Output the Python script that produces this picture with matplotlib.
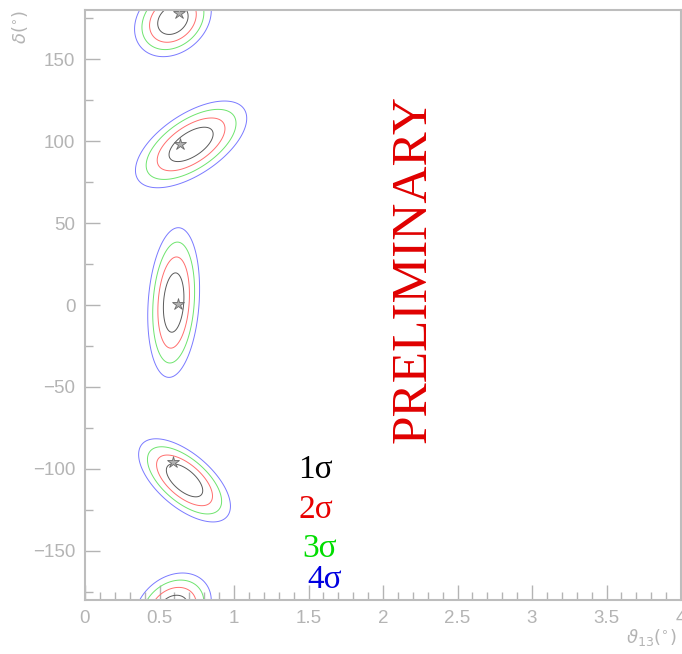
import matplotlib
matplotlib.use("Agg")
import matplotlib.pyplot as plt
import numpy as np
from matplotlib.ticker import MultipleLocator

# best-fit points (theta13 [deg], delta [deg])
best_theta = [0.633, 0.638, 0.626, 0.593]
best_delta = [178.2, 98.0, 0.4, -95.5]

# allowed islands: centre, widths and correlation of the local minimum
isl_theta = [0.712, 0.595, 0.668, 0.590]
isl_delta = [98.0, 1.5, -107.0, 174.0]
isl_sx = [0.103, 0.048, 0.085, 0.071]
isl_sy = [7.3, 12.6, 7.0, 6.2]
isl_rho = [0.60, 0.18, -0.62, 0.25]

# delta chi^2 for 1..4 sigma with 2 d.o.f.
sigma_labels = ["1σ", "2σ", "3σ", "4σ"]
sigma_levels = [2.30, 6.18, 11.83, 19.33]
sigma_colors = ["#5a5a5a", "#ff6e6e", "#6ee46e", "#7a7aff"]
label_colors = ["#000000", "#e80000", "#00dd00", "#0000e0"]
label_pos = [(1.43, -100.5), (1.43, -124.7), (1.46, -148.8), (1.49, -167.7)]

GREY = "#b4b4b4"

theta = np.linspace(0.0, 4.0, 801)
delta = np.linspace(-180.0, 180.0, 1441)
T, D = np.meshgrid(theta, delta)

chi2 = np.full(T.shape, np.inf)
for x0, y0, sx, sy, rho in zip(isl_theta, isl_delta, isl_sx, isl_sy, isl_rho):
    dx = (T - x0) / sx
    dy = ((D - y0 + 180.0) % 360.0 - 180.0) / sy
    q = (dx ** 2 - 2 * rho * dx * dy + dy ** 2) / (1 - rho ** 2)
    chi2 = np.minimum(chi2, q ** 1.15)

fig = plt.figure(figsize=(6.82, 6.54), dpi=100)
ax = fig.add_axes([85 / 682, 1 - 600 / 654, 596 / 682, 590 / 654])

ax.contour(T, D, chi2, levels=sigma_levels, colors=sigma_colors, linewidths=0.7)
ax.plot(best_theta, best_delta, linestyle="none", marker="*", markersize=9,
        markerfacecolor="#b0b0b0", markeredgecolor="#6a6a6a", markeredgewidth=0.6)

for text, col, (tx, ty) in zip(sigma_labels, label_colors, label_pos):
    ax.text(tx, ty, text, color=col, fontsize=24, family="Liberation Serif",
            ha="left", va="center")

ax.text(2.205, 21.8, "PRELIMINARY", color="#e00000", fontsize=37,
        family="Liberation Serif", rotation=90, ha="center", va="center")

ax.set_xlim(0, 4)
ax.set_ylim(-180, 180)
ax.xaxis.set_major_locator(MultipleLocator(0.5))
ax.xaxis.set_minor_locator(MultipleLocator(0.1))
ax.yaxis.set_major_locator(MultipleLocator(50))
ax.yaxis.set_minor_locator(MultipleLocator(25))
ax.tick_params(which="both", direction="in", color=GREY, labelcolor=GREY,
               labelsize=13.5, top=False, right=False)
ax.tick_params(which="major", length=11, width=1.0, pad=7)
ax.tick_params(which="minor", length=6, width=1.0)
ax.xaxis.set_major_formatter(plt.FuncFormatter(lambda v, p: f"{v:g}"))
for lab in ax.get_xticklabels() + ax.get_yticklabels():
    lab.set_family("Liberation Sans")
for sp in ax.spines.values():
    sp.set_color("#bdbdbd")
    sp.set_linewidth(1.5)

fig.text(677 / 682, 1 - 638 / 654, r"$\vartheta_{13}(^{\circ})$", color=GREY,
         fontsize=13, ha="right", va="center")
fig.text(20 / 682, 1 - 10 / 654, r"$\delta(^{\circ})$", color=GREY,
         fontsize=13, rotation=90, ha="center", va="top")

fig.savefig("out.png", dpi=100, facecolor="white")
